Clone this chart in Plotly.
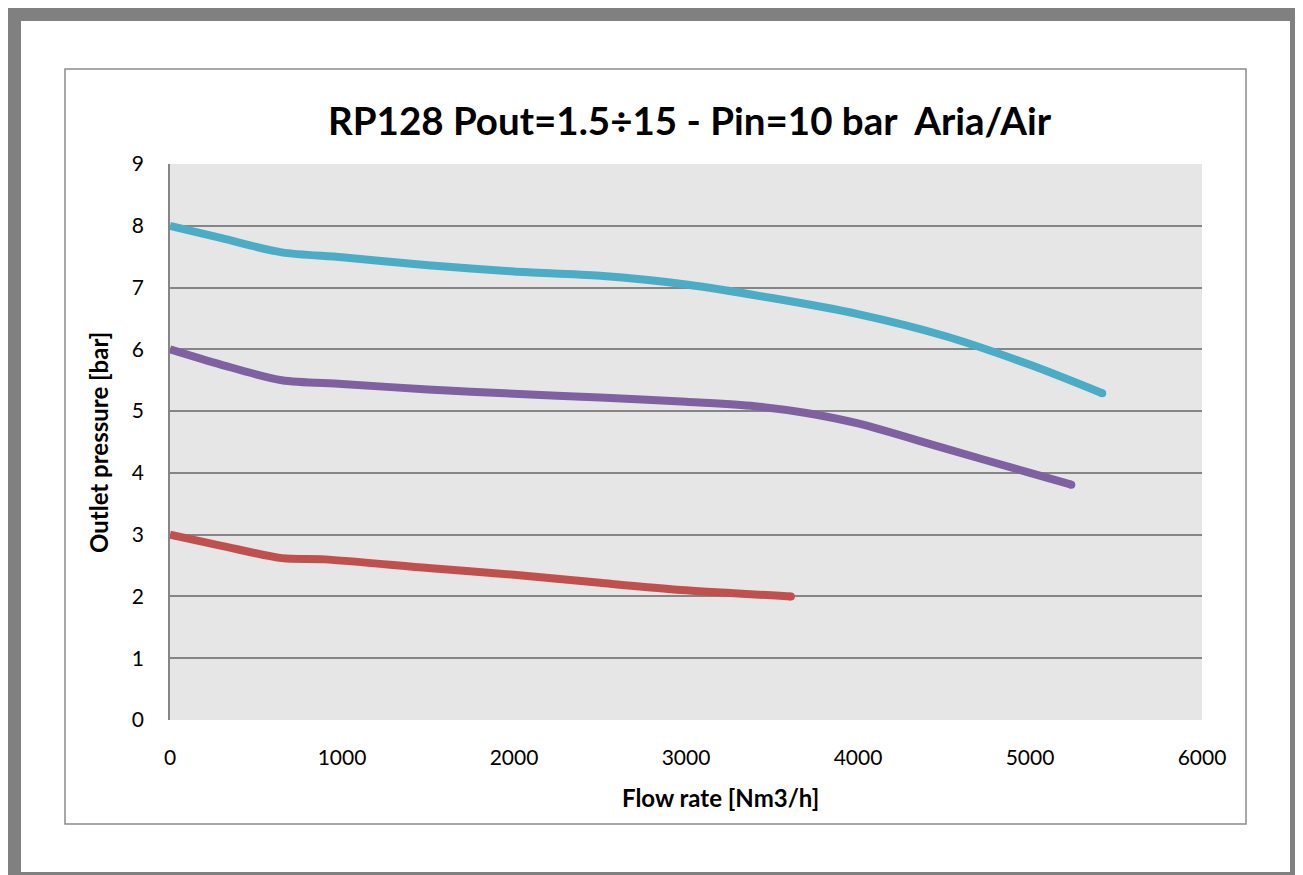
import plotly.graph_objects as go

# ---- data ----
flow_cyan = [0, 300, 650, 1000, 1500, 2000, 2500, 3000, 3500, 4000, 4500, 5000, 5420]
p_cyan = [8.0, 7.8, 7.57, 7.49, 7.36, 7.26, 7.19, 7.05, 6.83, 6.57, 6.22, 5.75, 5.29]

flow_purple = [0, 300, 650, 1000, 1500, 2000, 2500, 3000, 3400, 3700, 4000, 4500, 5000, 5240]
p_purple = [6.0, 5.75, 5.5, 5.44, 5.35, 5.28, 5.22, 5.15, 5.08, 4.97, 4.8, 4.4, 4.0, 3.81]

flow_red = [0, 300, 650, 900, 1500, 2000, 2500, 3000, 3610]
p_red = [3.0, 2.82, 2.62, 2.6, 2.46, 2.35, 2.22, 2.1, 2.0]

x_ticks = [0, 1000, 2000, 3000, 4000, 5000, 6000]
y_ticks = [0, 1, 2, 3, 4, 5, 6, 7, 8, 9]

title_text = "RP128 Pout=1.5÷15 - Pin=10 bar  Aria/Air"
x_title = "Flow rate [Nm3/h]"
y_title = "Outlet pressure [bar]"

series = [
    (flow_cyan, p_cyan, "#4bacc6"),
    (flow_purple, p_purple, "#7f60a1"),
    (flow_red, p_red, "#c0504d"),
]

# ---- layout geometry (figure coords; page body has 8px margin) ----
W, H = 1295, 867
L, R, T, B = 162, 101, 156, 155
PW = W - L - R
PH = H - T - B


def px(fx):
    return (fx - L) / PW


def py(fy):
    return (H - B - fy) / PH


FONT = "Lato"
GRAY = "#858585"
LW = 8

fig = go.Figure()
for xs, ys, col in series:
    fig.add_trace(go.Scatter(x=xs, y=ys, mode="lines",
                             line=dict(color=col, width=LW, shape="spline", smoothing=0.8),
                             showlegend=False, hoverinfo="skip"))
    # round line end cap
    fig.add_trace(go.Scatter(x=[xs[-1]], y=[ys[-1]], mode="markers",
                             marker=dict(color=col, size=LW, line=dict(width=0)),
                             showlegend=False, hoverinfo="skip"))

shapes = []
# outer thick gray frame
for (x0, y0, x1, y1) in [(0, 0, 13, H), (0, 0, W, 13), (W - 13, 0, W, H), (0, H - 3, W, H)]:
    shapes.append(dict(type="rect", xref="paper", yref="paper",
                       x0=px(x0), x1=px(x1), y0=py(y0), y1=py(y1),
                       fillcolor="#808080", line=dict(width=0), layer="above"))
# inner chart box
shapes.append(dict(type="rect", xref="paper", yref="paper",
                   x0=px(57), x1=px(1238), y0=py(61), y1=py(816),
                   fillcolor="rgba(0,0,0,0)", line=dict(color="#8c8c8c", width=1.5),
                   layer="above"))

annotations = [
    dict(text="<b>" + title_text + "</b>", xref="paper", yref="paper",
         x=px(682), y=py(112), xanchor="center", yanchor="middle", showarrow=False,
         font=dict(family=FONT, size=38.5, color="#000000")),
    dict(text="<b>" + x_title + "</b>", xref="paper", yref="paper",
         x=px(712), y=py(789), xanchor="center", yanchor="middle", showarrow=False,
         font=dict(family=FONT, size=24, color="#000000")),
    dict(text="<b>" + y_title + "</b>", xref="paper", yref="paper",
         x=px(90), y=py(435), xanchor="center", yanchor="middle", showarrow=False,
         textangle=-90, font=dict(family=FONT, size=24, color="#000000")),
]

fig.update_layout(
    width=W, height=H,
    margin=dict(l=L, r=R, t=T, b=B, pad=0),
    paper_bgcolor="#ffffff",
    plot_bgcolor="#e6e6e6",
    shapes=shapes,
    annotations=annotations,
    font=dict(family=FONT, size=21, color="#000000"),
)
fig.update_xaxes(range=[0, 6000], tickvals=x_ticks, ticktext=[str(v) for v in x_ticks],
                 showgrid=False, zeroline=False, showline=False,
                 ticks="outside", ticklen=19, tickcolor="rgba(0,0,0,0)",
                 tickfont=dict(family=FONT, size=21, color="#000000"))
fig.update_yaxes(range=[0, 9], tickvals=y_ticks, ticktext=[str(v) for v in y_ticks],
                 showgrid=True, gridcolor=GRAY, gridwidth=1.5, zeroline=False,
                 showline=True, linecolor=GRAY, linewidth=1.5,
                 ticks="outside", ticklen=20, tickcolor="rgba(0,0,0,0)",
                 tickfont=dict(family=FONT, size=21, color="#000000"))

fig.write_html("out.html")
